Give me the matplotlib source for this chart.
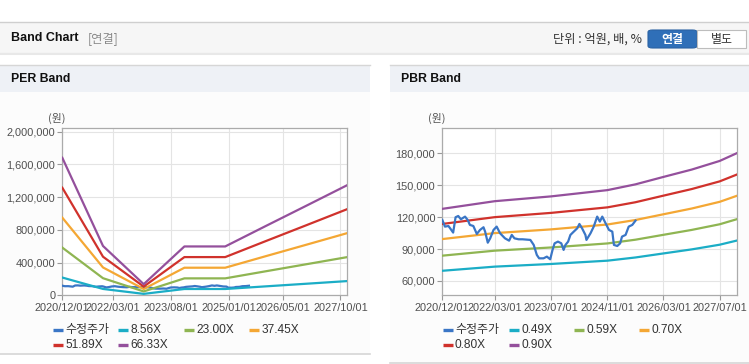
import matplotlib
matplotlib.use('Agg')
import matplotlib.pyplot as plt
import matplotlib.dates as mdates
import matplotlib.ticker as mticker
from matplotlib.patches import Rectangle, FancyBboxPatch
from matplotlib.lines import Line2D
import pandas as pd

# ---------------- data ----------------
band_dates = ['2020-12-01', '2021-12-01', '2022-12-01', '2023-12-01',
              '2024-12-01', '2025-12-01', '2026-12-01', '2027-12-01']
per_856 = [217000, 77800, 17500, 77000, 77000, 109400, 141500, 173800]
per_2300 = [583000, 209000, 47200, 207000, 207000, 293900, 380200, 466900]
per_3745 = [949000, 340400, 76800, 337100, 337100, 478600, 619000, 760200]
per_5189 = [1315000, 471700, 106400, 467000, 467000, 663100, 857700, 1053400]
per_6633 = [1681000, 602900, 136000, 597000, 597000, 847700, 1096400, 1346500]
per_labels = ['8.56X', '23.00X', '37.45X', '51.89X', '66.33X']

pbr_dates = ['2020-12-01', '2022-03-01', '2023-07-01', '2024-11-01', '2025-07-01',
             '2026-03-01', '2026-11-01', '2027-07-01', '2027-12-01']
pbr_049 = [69600, 73500, 76000, 79100, 82100, 85900, 89700, 94100, 98100]
pbr_059 = [83800, 88500, 91500, 95300, 98800, 103400, 108000, 113300, 118200]
pbr_070 = [99400, 105000, 108500, 113100, 117300, 122700, 128100, 134400, 140200]
pbr_080 = [113600, 120000, 124000, 129200, 134000, 140200, 146400, 153600, 160200]
pbr_090 = [127800, 135000, 139500, 145400, 150800, 157800, 164700, 172800, 180300]
pbr_labels = ['0.49X', '0.59X', '0.70X', '0.80X', '0.90X']

price_dates = ['2020-12-01', '2020-12-24', '2021-01-23', '2021-02-07', '2021-03-05',
               '2021-03-26', '2021-04-18', '2021-05-11', '2021-06-16', '2021-07-09',
               '2021-07-28', '2021-08-27', '2021-09-26', '2021-10-24', '2021-11-23',
               '2021-12-07', '2021-12-30', '2022-01-20', '2022-02-18', '2022-03-17',
               '2022-04-16', '2022-05-28', '2022-07-03', '2022-07-26', '2022-08-18',
               '2022-09-23', '2022-10-27', '2023-01-03', '2023-02-01', '2023-02-28',
               '2023-03-20', '2023-04-27', '2023-05-26', '2023-06-24', '2023-07-14',
               '2023-08-01', '2023-08-30', '2023-09-28', '2023-10-18', '2023-11-03',
               '2023-11-26', '2023-12-16', '2024-01-14', '2024-02-13', '2024-03-03',
               '2024-03-26', '2024-04-24', '2024-05-03', '2024-06-07', '2024-07-05',
               '2024-08-04', '2024-08-27', '2024-09-17', '2024-10-16', '2024-11-14',
               '2024-12-13', '2024-12-27', '2025-01-25', '2025-02-19', '2025-03-07',
               '2025-04-07', '2025-05-04', '2025-06-04', '2025-07-02']
price = [117400, 111100, 111700, 109500, 105500, 119900, 121100, 118000, 120500, 117400,
         112700, 111700, 104200, 108000, 110500, 106400, 96000, 100100, 108000, 111100,
         104800, 100100, 97900, 103300, 100100, 99200, 99200, 98600, 93900, 84500,
         81300, 81300, 82900, 80400, 89200, 95400, 97000, 95400, 89200, 93900,
         97000, 103300, 106400, 109500, 113600, 109500, 103300, 98600, 104800, 111100,
         120500, 115800, 120500, 114200, 108000, 106400, 93900, 92900, 95400, 101700,
         103300, 111100, 112700, 116700]
price_label = '수정주가'

per_yticks = [0, 400000, 800000, 1200000, 1600000, 2000000]
pbr_yticks = [60000, 90000, 120000, 150000, 180000]
per_xticks = ['2020-12-01', '2022-03-01', '2023-08-01', '2025-01-01', '2026-05-01', '2027-10-01']
pbr_xticks = ['2020-12-01', '2022-03-01', '2023-07-01', '2024-11-01', '2026-03-01', '2027-07-01']

# ---------------- style ----------------
W, H = 749, 364
C_PRICE = '#3a76c6'
BAND_COLORS = ['#1badc6', '#8fb552', '#f4a734', '#d0322c', '#94509c']
NARROW = ['Liberation Sans Narrow', 'Liberation Sans', 'DejaVu Sans']
KR = ['Noto Sans CJK KR', 'DejaVu Sans']
MIX = ['Liberation Sans', 'Noto Sans CJK KR', 'DejaVu Sans']

fig = plt.figure(figsize=(W / 100, H / 100), dpi=100)
fig.patch.set_facecolor('white')


def fx(x):
    return x / W


def fy(y):
    return 1 - y / H


def rect(x0, y0, x1, y1, fc, ec='none', lw=0, z=-5):
    fig.patches.append(Rectangle((fx(x0), fy(y1)), (x1 - x0) / W, (y1 - y0) / H,
                                 transform=fig.transFigure, facecolor=fc,
                                 edgecolor=ec, linewidth=lw, zorder=z))


def hline(x0, x1, y, color, lw=1.0):
    fig.lines.append(Line2D([fx(x0), fx(x1)], [fy(y), fy(y)], transform=fig.transFigure,
                            color=color, linewidth=lw, zorder=-4))


# top header
rect(0, 22, W, 52, '#f6f6f6')
hline(0, W, 22, '#cfcfcf', 1.0)
hline(0, W, 52.5, '#c9c9c9', 1.0)
hline(0, W, 54, '#e8e8e8', 1.5)
fig.text(fx(11), fy(38), 'Band Chart', family=['Liberation Sans', 'DejaVu Sans'],
         fontweight='bold', fontsize=9.0, color='#111111', va='center', ha='left')
fig.text(fx(88), fy(38.5), '[연결]', family=KR, fontsize=8.8, color='#8a8a8a',
         va='center', ha='left')
fig.text(fx(642), fy(39), '단위 : 억원, 배, %', family=KR, fontsize=8.8, color='#333333',
         va='center', ha='right')
fig.patches.append(FancyBboxPatch((fx(648), fy(48)), 49 / W, 18 / H,
                                  boxstyle='round,pad=0,rounding_size=0.006',
                                  transform=fig.transFigure, facecolor='#2f6fb8',
                                  edgecolor='#2a62a3', linewidth=0.8, zorder=2))
fig.patches.append(Rectangle((fx(697), fy(48)), 49 / W, 18 / H,
                             transform=fig.transFigure, facecolor='white',
                             edgecolor='#bdbdbd', linewidth=0.8, zorder=2))
fig.text(fx(672.5), fy(39), '연결', family=KR, fontsize=8.6, fontweight='bold',
         color='white', va='center', ha='center', zorder=3)
fig.text(fx(721.5), fy(39), '별도', family=KR, fontsize=8.6, color='#333333',
         va='center', ha='center', zorder=3)

# panels
for (x0, x1, ybot, title) in [(0, 370, 354, 'PER Band'), (390, W, 363, 'PBR Band')]:
    rect(x0, 65, x1, 92, '#eef1f6')
    rect(x0, 92, x1, ybot, '#fcfcfc')
    hline(x0, x1, 64.5, '#d6d6d6', 1.0)
    hline(x0, x1, ybot, '#d6d6d6', 1.2)
    fig.text(fx(x0 + 11), fy(79.5), title, family=['Liberation Sans', 'DejaVu Sans'],
             fontweight='bold', fontsize=8.8, color='#111111', va='center', ha='left')


def style_axes(ax, yticks, xticks, ylim):
    ax.set_zorder(5)
    ax.set_facecolor('white')
    ax.set_xlim(pd.Timestamp('2020-12-01'), pd.Timestamp('2027-12-01'))
    ax.set_ylim(*ylim)
    ax.set_yticks(yticks)
    ax.set_xticks(pd.to_datetime(xticks))
    ax.xaxis.set_major_formatter(mdates.DateFormatter('%Y/%m/%d'))
    ax.yaxis.set_major_formatter(mticker.FuncFormatter(lambda v, p: f'{v:,.0f}'))
    ax.grid(True, color='#e4e4e4', linewidth=0.8)
    ax.set_axisbelow(True)
    for s in ax.spines.values():
        s.set_color('#ababab')
        s.set_linewidth(0.9)
    ax.tick_params(axis='both', length=3.5, width=0.8, color='#999999',
                   labelcolor='#505050', labelsize=7.9)
    ax.tick_params(axis='y', pad=1.5)
    ax.tick_params(axis='x', pad=2.0)
    for lab in ax.get_xticklabels() + ax.get_yticklabels():
        lab.set_family(NARROW)


def legend(x_cols, y_rows, items):
    for (col, row, color, text) in items:
        x = x_cols[col]
        y = y_rows[row]
        fig.lines.append(Line2D([fx(x), fx(x + 10)], [fy(y), fy(y)], transform=fig.transFigure,
                                color=color, linewidth=2.4, solid_capstyle='butt'))
        fig.text(fx(x + 12.5), fy(y + 0.5), text, family=MIX, fontsize=8.6,
                 color='#333333', va='center', ha='left')


# PER axes
ax1 = fig.add_axes([fx(62.3), fy(295.3), 285 / W, 167 / H])
pd_band = pd.to_datetime(band_dates)
pd_price = pd.to_datetime(price_dates)
ax1.plot(pd_price, price, color=C_PRICE, lw=1.6, zorder=3)
for vals, col in zip([per_856, per_2300, per_3745, per_5189, per_6633], BAND_COLORS):
    ax1.plot(pd_band, vals, color=col, lw=1.6, zorder=3)
style_axes(ax1, per_yticks, per_xticks, (0, 2041000))
fig.text(fx(57), fy(118), '(원)', family=KR, fontsize=7.8, color='#555555',
         ha='center', va='center')

# PBR axes
ax2 = fig.add_axes([fx(442.3), fy(295.3), 295 / W, 167 / H])
pd_pbr = pd.to_datetime(pbr_dates)
for vals, col in zip([pbr_049, pbr_059, pbr_070, pbr_080, pbr_090], BAND_COLORS):
    ax2.plot(pd_pbr, vals, color=col, lw=1.6, zorder=3)
ax2.plot(pd_price, price, color=C_PRICE, lw=1.6, zorder=4)
style_axes(ax2, pbr_yticks, pbr_xticks, (46560, 203490))
fig.text(fx(437), fy(118), '(원)', family=KR, fontsize=7.8, color='#555555',
         ha='center', va='center')

# legends
legend([53, 118, 184, 249], [329.5, 344.5],
       [(0, 0, C_PRICE, price_label)] +
       [((i + 1) % 4, (i + 1) // 4, BAND_COLORS[i], per_labels[i]) for i in range(5)])
legend([442.5, 508.5, 574, 638.5], [329.5, 344.5],
       [(0, 0, C_PRICE, price_label)] +
       [((i + 1) % 4, (i + 1) // 4, BAND_COLORS[i], pbr_labels[i]) for i in range(5)])

fig.savefig('out.png', dpi=100, facecolor='white')
